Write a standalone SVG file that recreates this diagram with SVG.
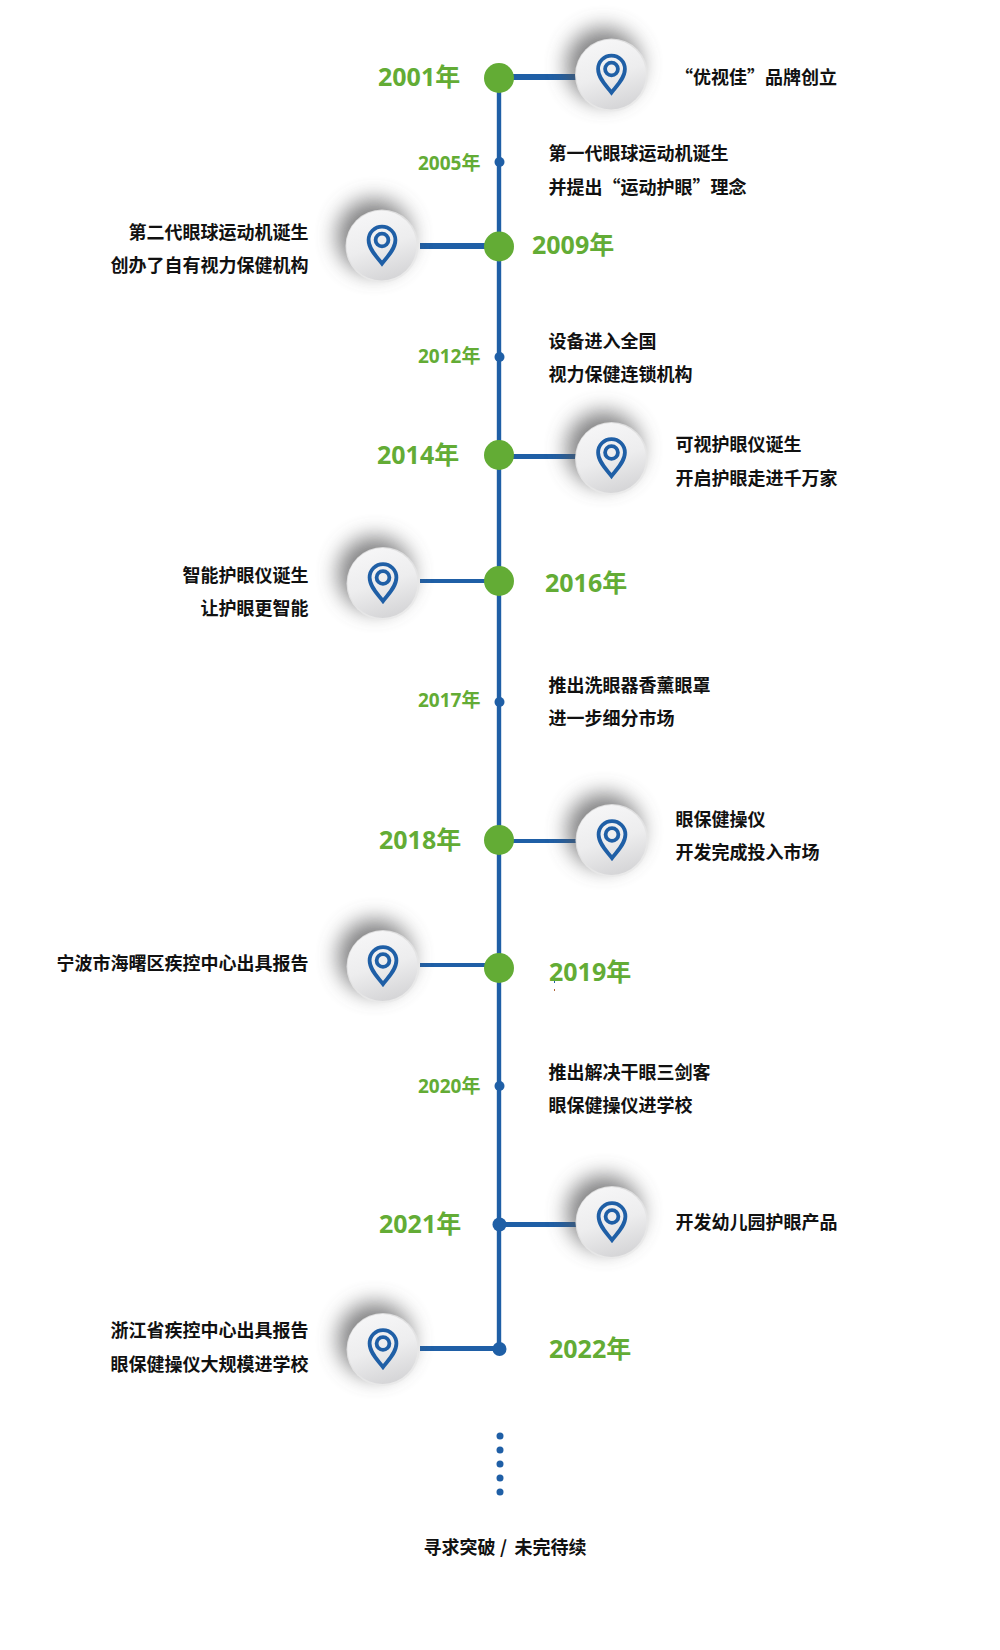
<svg xmlns="http://www.w3.org/2000/svg" width="1000" height="1650" viewBox="0 0 1000 1650">
<style>
text{font-family:"Open Sans","Noto Sans CJK SC",sans-serif;font-weight:700}
.t{font-family:"Noto Sans CJK SC",sans-serif;font-size:18px;fill:#111;font-weight:700}
.e{text-anchor:end}
.y{font-size:25px;fill:#63ac35}
.s{font-size:19px;fill:#63ac35}
.b{fill:#1f5fa6}
.g{fill:#63ac35}
.c{stroke:#1f5fa6;fill:none}
</style>
<defs>
<linearGradient id="disc" x1="0.35" y1="0" x2="0.65" y2="1"><stop offset="0" stop-color="#f6f6f7"/><stop offset="0.5" stop-color="#ededee"/><stop offset="1" stop-color="#d4d4d6"/></linearGradient>
<linearGradient id="rim" x1="0.2" y1="0" x2="0.8" y2="1"><stop offset="0" stop-color="#d9d9da"/><stop offset="1" stop-color="#ececec"/></linearGradient>
<filter id="blur" x="-70%" y="-70%" width="240%" height="240%"><feGaussianBlur stdDeviation="10.5"/></filter>
<g id="pin">
<circle cx="-8" cy="-10" r="37" fill="#555557" opacity="0.75" filter="url(#blur)"/>
<circle cx="0" cy="0" r="36.5" fill="url(#rim)"/>
<circle cx="-0.5" cy="-0.5" r="35" fill="url(#disc)"/>
<path class="c" stroke-width="3.8" stroke-linejoin="miter" d="M0 17.5C-4.5 11.5-13.4 3.5-13.4-6A13.4 13.4 0 0 1 13.4-6C13.4 3.5 4.5 11.5 0 17.5Z"/>
<circle class="c" stroke-width="3.8" cx="0" cy="-6" r="6.4"/>
</g>
</defs>
<rect width="1000" height="1650" fill="#fff"/>
<g id="connectors">
<rect class="b" x="496.8" y="78" width="4.4" height="1271"/>
<rect class="b" x="499" y="74" width="80" height="6"/>
<rect class="b" x="420" y="243" width="70" height="6"/>
<rect class="b" x="499" y="454" width="80" height="5"/>
<rect class="b" x="420" y="579" width="70" height="4"/>
<rect class="b" x="499" y="839" width="80" height="4"/>
<rect class="b" x="420" y="963" width="70" height="4"/>
<rect class="b" x="499" y="1222" width="80" height="5"/>
<rect class="b" x="420" y="1346" width="80" height="5"/>
</g>
<g id="node-2001"><use href="#pin" x="611.5" y="75"/><circle class="g" cx="499" cy="78" r="15"/><text class="y" x="378" y="86">2001年</text><text class="t" x="675" y="84">“优视佳”品牌创立</text></g>
<g id="node-2005"><circle class="b" cx="499.5" cy="162" r="5"/><text class="s" x="418" y="170">2005年</text><text class="t" x="548.500" y="160">第一代眼球运动机诞生</text><text class="t" x="548.500" y="194">并提出“运动护眼”理念</text></g>
<g id="node-2009"><use href="#pin" x="382" y="246"/><circle class="g" cx="499" cy="246.500" r="15"/><text class="y" x="532" y="254">2009年</text><text class="t e" x="308.500" y="239">第二代眼球运动机诞生</text><text class="t e" x="308.500" y="272">创办了自有视力保健机构</text></g>
<g id="node-2012"><circle class="b" cx="499.500" cy="357" r="5"/><text class="s" x="418" y="363">2012年</text><text class="t" x="548.500" y="348">设备进入全国</text><text class="t" x="548.500" y="381">视力保健连锁机构</text></g>
<g id="node-2014"><use href="#pin" x="611.500" y="458.500"/><circle class="g" cx="499" cy="455" r="15"/><text class="y" x="377" y="464">2014年</text><text class="t" x="675.500" y="451">可视护眼仪诞生</text><text class="t" x="675.500" y="485">开启护眼走进千万家</text></g>
<g id="node-2016"><use href="#pin" x="383" y="583.500"/><circle class="g" cx="499" cy="581" r="15"/><text class="y" x="545" y="592">2016年</text><text class="t e" x="308.500" y="582">智能护眼仪诞生</text><text class="t e" x="308.500" y="615">让护眼更智能</text></g>
<g id="node-2017"><circle class="b" cx="499.500" cy="702" r="5"/><text class="s" x="418" y="707">2017年</text><text class="t" x="548.500" y="692">推出洗眼器香薰眼罩</text><text class="t" x="548.500" y="725">进一步细分市场</text></g>
<g id="node-2018"><use href="#pin" x="612" y="840.500"/><circle class="g" cx="499" cy="840" r="15"/><text class="y" x="379" y="849">2018年</text><text class="t" x="675.500" y="826">眼保健操仪</text><text class="t" x="675.500" y="859">开发完成投入市场</text></g>
<g id="node-2019"><use href="#pin" x="383" y="966.500"/><circle class="g" cx="499" cy="968" r="15"/><text class="y" x="549" y="981">2019年</text><rect x="554" y="981" width="1" height="2" fill="#1f5fa6"/><rect x="554" y="989" width="1" height="2" fill="#b0653a"/><text class="t e" x="308.500" y="970">宁波市海曙区疾控中心出具报告</text></g>
<g id="node-2020"><circle class="b" cx="499.500" cy="1086" r="5"/><text class="s" x="418" y="1093">2020年</text><text class="t" x="548.500" y="1079">推出解决干眼三剑客</text><text class="t" x="548.500" y="1112">眼保健操仪进学校</text></g>
<g id="node-2021"><use href="#pin" x="612" y="1222.500"/><circle class="b" cx="499.500" cy="1224.500" r="7"/><text class="y" x="379" y="1233">2021年</text><text class="t" x="675.500" y="1229">开发幼儿园护眼产品</text></g>
<g id="node-2022"><use href="#pin" x="383" y="1349.500"/><circle class="b" cx="499.500" cy="1349" r="7"/><text class="y" x="549" y="1358">2022年</text><text class="t e" x="308.500" y="1337">浙江省疾控中心出具报告</text><text class="t e" x="308.500" y="1371">眼保健操仪大规模进学校</text></g>
<g id="dots" class="b"><circle cx="500" cy="1436" r="3.5"/><circle cx="500" cy="1450" r="3.500"/><circle cx="500" cy="1464" r="3.500"/><circle cx="500" cy="1478" r="3.500"/><circle cx="500" cy="1492" r="3.500"/></g>
<g id="node-future"><text class="t" x="423.500" y="1554">寻求突破 <tspan x="500">/</tspan> <tspan x="514.500">未完待续</tspan></text></g>
</svg>
